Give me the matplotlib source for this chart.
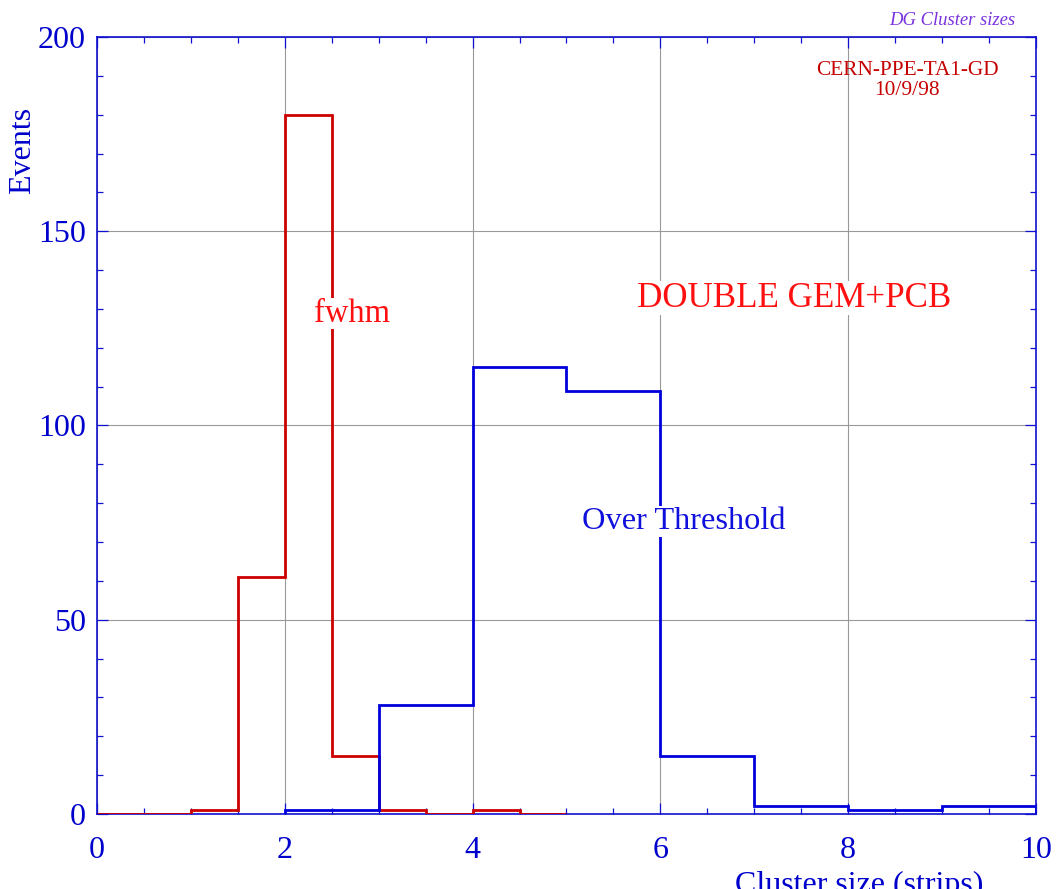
import numpy as np
import matplotlib
matplotlib.use('Agg')
import matplotlib.pyplot as plt
from matplotlib.ticker import MultipleLocator

plt.rcParams['font.family'] = ['Liberation Serif', 'DejaVu Serif']

# fwhm cluster sizes (bins of 0.5 strip)
fwhm_edges = [0, 0.5, 1.0, 1.5, 2.0, 2.5, 3.0, 3.5, 4.0, 4.5, 5.0]
fwhm_counts = [0, 0, 1, 61, 180, 15, 1, 0, 1, 0]

# over-threshold cluster sizes (bins of 1 strip)
thr_edges = [2, 3, 4, 5, 6, 7, 8, 9, 10]
thr_counts = [1, 28, 115, 109, 15, 2, 1, 2]

axcol = '#1010d0'

fig = plt.figure(figsize=(10.61, 8.89), dpi=100)
ax = fig.add_axes([0.0914, 0.0844, 0.885, 0.8740])

ax.stairs(fwhm_counts, fwhm_edges, color='#cc0000', linewidth=2.0, zorder=3)
ax.stairs(thr_counts, thr_edges, color='#0000dd', linewidth=2.0, zorder=3)

ax.set_xlim(0, 10)
ax.set_ylim(0, 200)
ax.xaxis.set_major_locator(MultipleLocator(2))
ax.xaxis.set_minor_locator(MultipleLocator(0.5))
ax.yaxis.set_major_locator(MultipleLocator(50))
ax.yaxis.set_minor_locator(MultipleLocator(10))
ax.grid(True, which='major', color='#999999', linewidth=0.8, zorder=1)
ax.set_axisbelow(True)

ax.tick_params(which='both', direction='in', top=True, right=True, colors=axcol,
               labelsize=23, width=0.9)
ax.tick_params(which='major', length=8)
ax.tick_params(which='minor', length=4.5)
ax.tick_params(axis='x', pad=16)
ax.tick_params(axis='y', pad=8)
for s in ax.spines.values():
    s.set_color(axcol)
    s.set_linewidth(1.2)
for lab in ax.get_xticklabels() + ax.get_yticklabels():
    lab.set_color('#0000cc')

fig.text(0.021, 0.831, 'Events', rotation=90, ha='center', va='center',
         fontsize=23, color='#0000cc')
# x title sits partly below the bottom edge of the page
fig.text(0.6927, -0.005, 'Cluster size (strips)', ha='left', va='baseline',
         fontsize=23, color='#0000cc')

fig.text(0.9566, 0.9775, 'DG Cluster sizes', ha='right', va='center',
         fontsize=13.4, style='italic', color='#7a33dd')
ax.text(8.63, 191.5, 'CERN-PPE-TA1-GD', ha='center', va='center',
        fontsize=15.4, color='#c40000', zorder=5)
ax.text(8.63, 186.2, '10/9/98', ha='center', va='center',
        fontsize=15.4, color='#c40000', zorder=5)

box = dict(facecolor='white', edgecolor='none', pad=0.5)
ax.text(7.42, 132.8, 'DOUBLE GEM+PCB', ha='center', va='center',
        fontsize=25.2, color='#ff1010', bbox=box, zorder=5)
ax.text(2.72, 128.8, 'fwhm', ha='center', va='center',
        fontsize=23.5, color='#ff1010', bbox=box, zorder=5)
ax.text(6.25, 75.3, 'Over Threshold', ha='center', va='center',
        fontsize=23.3, color='#1010dd', bbox=box, zorder=5)

fig.savefig('out.png', dpi=100)
